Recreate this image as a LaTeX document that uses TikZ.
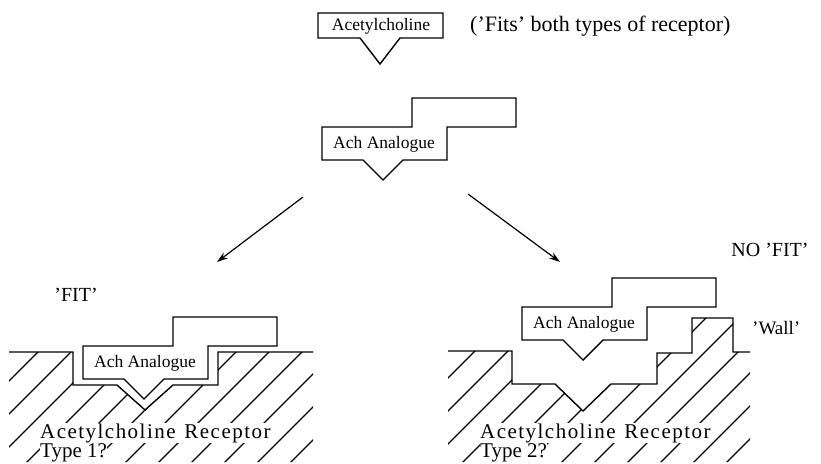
\documentclass[tikz,border=0pt]{standalone}
\usepackage{fontspec}
\setmainfont{Liberation Serif}
\usetikzlibrary{positioning, arrows.meta}

\begin{document}
\begin{tikzpicture}[
    x=1pt, y=-1pt,
    outline/.style={draw, line width=1.4pt, line join=miter},
    hatch/.style={line width=1.2pt},
    arrow/.style={-{Stealth[length=11pt, width=7pt]}, line width=1.2pt},
    boxtext/.style={font=\fontsize{17.5}{20}\selectfont, inner sep=0pt},
    label/.style={font=\fontsize{20}{24}\selectfont, inner sep=0pt},
    rlabel/.style={font=\fontsize{21}{24}\selectfont, inner sep=0pt, fill=white, anchor=base west},
    analogue/.pic={
        \draw[outline] (0,0) -- (90,0) -- (90,-29) -- (194,-29) -- (194,0) -- (125,0)
            -- (125,33) -- (81,33) -- (61,53) -- (41,33) -- (0,33) -- cycle;
        \node[boxtext] (-txt) at (62,17) {Ach Analogue};
    }
]
\useasboundingbox (0,0) rectangle (821,463);

% Acetylcholine
\node[boxtext] (ach) at (381,26) {Acetylcholine};
\draw[outline] (318,13) -- (443,13) -- (443,38) -- (400,38) -- (380,64) -- (360,38) -- (318,38) -- cycle;
\node[label, font=\fontsize{22}{24}\selectfont, anchor=west] (fits) at (470,26) {('Fits' both types of receptor)};

% Analogue on its own
\pic (ana) at (322,127) {analogue};

% Arrows
\coordinate (srcL) at (303,197);
\coordinate (dstL) at (217,262);
\coordinate (srcR) at (468,194);
\coordinate (dstR) at (560,262);
\draw[arrow] (srcL) -- (dstL);
\draw[arrow] (srcR) -- (dstR);

% Receptor type 1
\begin{scope}
    \clip (9,352) -- (73,352) -- (73,385) -- (117,385) -- (145,410) -- (173,385) -- (218,385)
        -- (218,352) -- (313,352) -- (313,462) -- (9,462) -- cycle;
    \foreach \c in {390,423,...,790}
        \draw[hatch] (\c-480,480) -- (\c-300,300);
\end{scope}
\draw[outline] (9,352) -- (73,352) -- (73,385) -- (117,385) -- (145,410) -- (173,385)
    -- (218,385) -- (218,352) -- (313,352);
\pic (fitana) at (83,346) {analogue};
\node[label] (fit) at (76,295) {'FIT'};
\node[rlabel] (rec1) at (40,438) {\addfontfeature{LetterSpace=7}Acetylcholine\hspace{0.1em} Receptor};
\node[rlabel] (type1) at (40,457) {Type 1?};

% Receptor type 2
\begin{scope}
    \clip (448,351) -- (512,351) -- (512,384) -- (555,384) -- (583,411) -- (611,384) -- (657,384)
        -- (657,353) -- (692,353) -- (692,318) -- (733,318) -- (733,352) -- (750,352)
        -- (750,462) -- (448,462) -- cycle;
    \foreach \c in {793,826,...,1230}
        \draw[hatch] (\c-480,480) -- (\c-300,300);
\end{scope}
\draw[outline] (448,351) -- (512,351) -- (512,384) -- (555,384) -- (583,411) -- (611,384)
    -- (657,384) -- (657,353) -- (692,353) -- (692,318) -- (733,318) -- (733,352) -- (750,352);
\pic (noana) at (522,307) {analogue};
\node[label] (nofit) at (770,250) {NO 'FIT'};
\node[label, font=\fontsize{19}{24}\selectfont, anchor=west] (wall) at (752,328) {'Wall'};
\node[rlabel] (rec2) at (480,438) {\addfontfeature{LetterSpace=7}Acetylcholine\hspace{0.1em} Receptor};
\node[rlabel] (type2) at (480,457) {Type 2?};

\end{tikzpicture}
\end{document}
